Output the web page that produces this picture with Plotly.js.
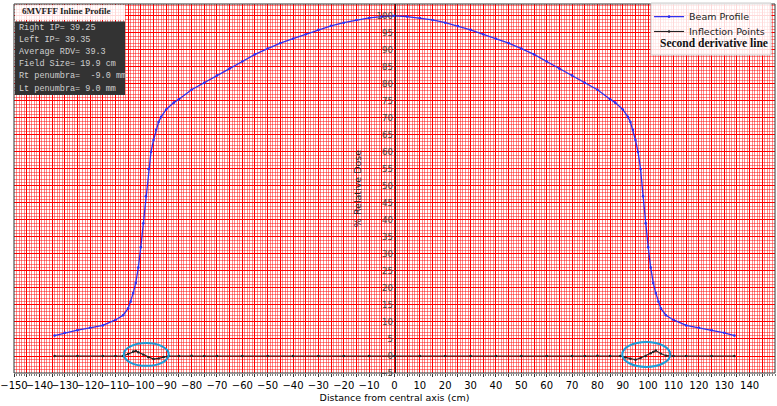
<!DOCTYPE html>
<html>
<head>
<meta charset="utf-8">
<script src="https://cdn.plot.ly/plotly-3.0.1.min.js"></script>
<style>
  html, body { margin: 0; padding: 0; background: #fff; }
  #chart { width: 777px; height: 406px; }
</style>
</head>
<body>
<div id="chart"></div>
<script>
(function () {
  "use strict";

  // beam profile (% relative dose vs distance, cm)
  var profileX = [-134, -130, -125, -120, -115, -110, -107, -105, -104, -103, -102, -101, -100, -99, -98, -97, -96, -95, -94, -93,
    -92, -90, -87, -85, -80, -75, -70, -65, -60, -55, -50, -45, -40, -35, -30, -25, -20, -15, -10, -5, 0,
    5, 10, 15, 20, 25, 30, 35, 40, 45, 50, 55, 60, 65, 70, 75, 80, 85, 87, 90, 92,
    93, 94, 95, 96, 97, 98, 99, 100, 101, 102, 103, 104, 105, 107, 110, 115, 120, 125, 130, 134];
  var profileY = [6.0, 6.8, 7.6, 8.3, 9.0, 10.6, 12.0, 14.0, 16.0, 18.5, 21.5, 26, 32, 39, 47, 55, 60, 63.5, 66.5, 68.8,
    70.3, 72.5, 74.5, 75.5, 78.3, 80.3, 82.5, 84.5, 86.6, 88.7, 90.4, 92.0, 93.3, 94.6, 95.9, 97.1, 98.0, 98.8, 99.4, 99.8, 100,
    99.8, 99.4, 98.8, 98.0, 97.0, 95.9, 94.6, 93.3, 92.0, 90.4, 88.7, 86.6, 84.5, 82.5, 80.3, 78.3, 75.5, 74.5, 72.5, 70.3,
    68.8, 66.5, 63.5, 60, 55, 47, 39, 32, 26, 21.5, 18.5, 16, 14, 12, 10.6, 9.0, 8.3, 7.6, 6.8, 6.0];

  // second derivative / inflection line
  var derivX = [-134, -125, -115, -110, -107, -105, -103, -102, -101, -99, -97, -95, -93, -91, -89, -85, -80, -75, -70, -60, -50,
    -40, -30, -20, -10, 0, 10, 20, 30, 40, 50, 60, 70, 75, 80, 85, 89, 91, 93, 95, 97, 99, 101, 102, 103, 105, 107, 110, 115, 125, 134];
  var derivY = [0, 0, 0, 0, 0, 0.6, 1.3, 1.5, 1.1, 0.4, -0.4, -0.9, -0.7, -0.3, 0, 0, 0.1, 0, 0, 0, 0,
    0, 0, 0, 0, 0, 0, 0, 0, 0, 0, 0, 0, 0, 0.1, 0, 0, -0.4, -0.8, -1.1, -0.6, 0, 0.8, 1.2, 1.6, 0.7, 0.1, 0, 0, 0, 0];

  var infoLines = ["Right IP= 39.25", "Left IP= 39.35", "Average RDV= 39.3", "Field Size= 19.9 cm",
    "Rt penumbra=  -9.0 mm", "Lt penumbra= 9.0 mm"];

  // highlighted regions [x0, x1, y0, y1]
  var circled = [[-106.7, -89, -2.9, 3.8], [89.8, 108.7, -3.2, 4.1]];

  var xTicks = [], xText = [];
  for (var v = -150; v <= 145; v += 5) {
    xTicks.push(v);
    xText.push(v % 10 === 0 ? String(v).replace("-", "\u2212") : "");
  }
  var yTicks = [], yText = [];
  for (var w = -5; w <= 100; w += 5) {
    yTicks.push(w);
    yText.push(String(w).replace("-", "\u2212"));
  }

  var sans = "DejaVu Sans, Arial, sans-serif";
  var serif = "Liberation Serif, DejaVu Serif, serif";
  var mono = "Liberation Mono, DejaVu Sans Mono, monospace";
  var legendFont = { family: sans, size: 9.5, color: "#222" };

  var traces = [
    { name: "Beam Profile", x: profileX, y: profileY, type: "scatter", mode: "lines+markers", legend: "legend",
      line: { color: "#2f2fee", width: 1.3 }, marker: { color: "#2f2fee", size: 2.6 } },
    { name: "Inflection Points", x: derivX, y: derivY, type: "scatter", mode: "lines+markers", legend: "legend2",
      line: { color: "#222", width: 1.1 }, marker: { color: "#222", size: 2.4 } }
  ];

  var shapes = [
    { type: "rect", xref: "paper", yref: "paper", x0: 0, x1: 1, y0: 0, y1: 1, line: { color: "#333", width: 1 }, layer: "above" },
    // info box
    { type: "rect", xref: "paper", yref: "paper", xsizemode: "pixel", ysizemode: "pixel", xanchor: 0, yanchor: 1,
      x0: 1, x1: 111, y0: -1, y1: -16, fillcolor: "rgba(255,255,255,0.85)", line: { width: 0 }, layer: "above" },
    { type: "rect", xref: "paper", yref: "paper", xsizemode: "pixel", ysizemode: "pixel", xanchor: 0, yanchor: 1,
      x0: 1, x1: 111, y0: -17.5, y1: -91, fillcolor: "#333", line: { width: 0 }, layer: "above" },
    // legend box
    { type: "rect", xref: "paper", yref: "paper", xsizemode: "pixel", ysizemode: "pixel", xanchor: 1, yanchor: 1,
      x0: -124, x1: -4, y0: 1, y1: -51, fillcolor: "rgba(255,255,255,0.85)", line: { color: "#ccc", width: 1 }, layer: "above" }
  ];
  circled.forEach(function (c) {
    shapes.push({ type: "circle", xref: "x", yref: "y", x0: c[0], x1: c[1], y0: c[2], y1: c[3],
      line: { color: "#1e9ad6", width: 2 }, layer: "above" });
  });

  var annotations = [
    { xref: "paper", yref: "paper", x: 0, y: 1, xanchor: "left", yanchor: "middle", xshift: 6, yshift: -7,
      text: "<b>6MVFFF Inline Profile</b>", showarrow: false, font: { family: serif, size: 9, color: "#222" } },
    { xref: "paper", yref: "paper", x: 0.8463, y: 1, xanchor: "left", yanchor: "middle", yshift: -39,
      text: "<b>Second derivative line</b>", showarrow: false, font: { family: serif, size: 11.5, color: "#111" } }
  ];
  infoLines.forEach(function (t, i) {
    annotations.push({ xref: "paper", yref: "paper", x: 0, y: 1, xanchor: "left", yanchor: "middle",
      xshift: 3, yshift: -23.5 - i * 12.2, text: t, showarrow: false,
      font: { family: mono, size: 8.5, color: "#cfcfcf" } });
  });

  var layout = {
    width: 777, height: 406,
    margin: { l: 14, r: 2, t: 4, b: 33 },
    paper_bgcolor: "#fff", plot_bgcolor: "#fff",
    font: { family: sans, color: "#000" },
    showlegend: true,
    legend: { x: 0.8345, y: 1.005, xanchor: "left", yanchor: "top", bgcolor: "rgba(0,0,0,0)", font: legendFont, itemwidth: 30 },
    legend2: { x: 0.8345, y: 0.9648, xanchor: "left", yanchor: "top", bgcolor: "rgba(0,0,0,0)", font: legendFont, itemwidth: 30 },
    xaxis: {
      range: [-150, 150], tickmode: "array", tickvals: xTicks, ticktext: xText, tickangle: 0,
      tickfont: { family: sans, size: 10, color: "#000" },
      ticks: "outside", ticklen: 3, tickcolor: "#333",
      showgrid: true, gridcolor: "#ff0000", gridwidth: 1, zeroline: false,
      minor: { tickmode: "linear", tick0: 0, dtick: 1, showgrid: true, gridcolor: "rgba(255,20,20,0.5)", gridwidth: 1,
        ticks: "outside", ticklen: 2, tickcolor: "#777" },
      title: { text: "Distance from central axis (cm)", font: { family: sans, size: 9.5, color: "#000" }, standoff: 4 }
    },
    yaxis: {
      range: [-5, 103.5], tickmode: "array", tickvals: yTicks, ticktext: yText,
      anchor: "free", position: 0.5, side: "left",
      showline: true, linecolor: "#222", linewidth: 1,
      tickfont: { family: sans, size: 8.5, color: "#444" }, ticks: "",
      showgrid: true, gridcolor: "#ff0000", gridwidth: 1, zeroline: false,
      minor: { tickmode: "linear", tick0: 0, dtick: 1, showgrid: true, gridcolor: "rgba(255,20,20,0.5)", gridwidth: 1 },
      title: { text: "% Relative Dose", font: { family: sans, size: 9.5, color: "#222" }, standoff: 12 }
    },
    shapes: shapes,
    annotations: annotations
  };

  Plotly.newPlot("chart", traces, layout, { displayModeBar: false, staticPlot: true });
}());
</script>
</body>
</html>
